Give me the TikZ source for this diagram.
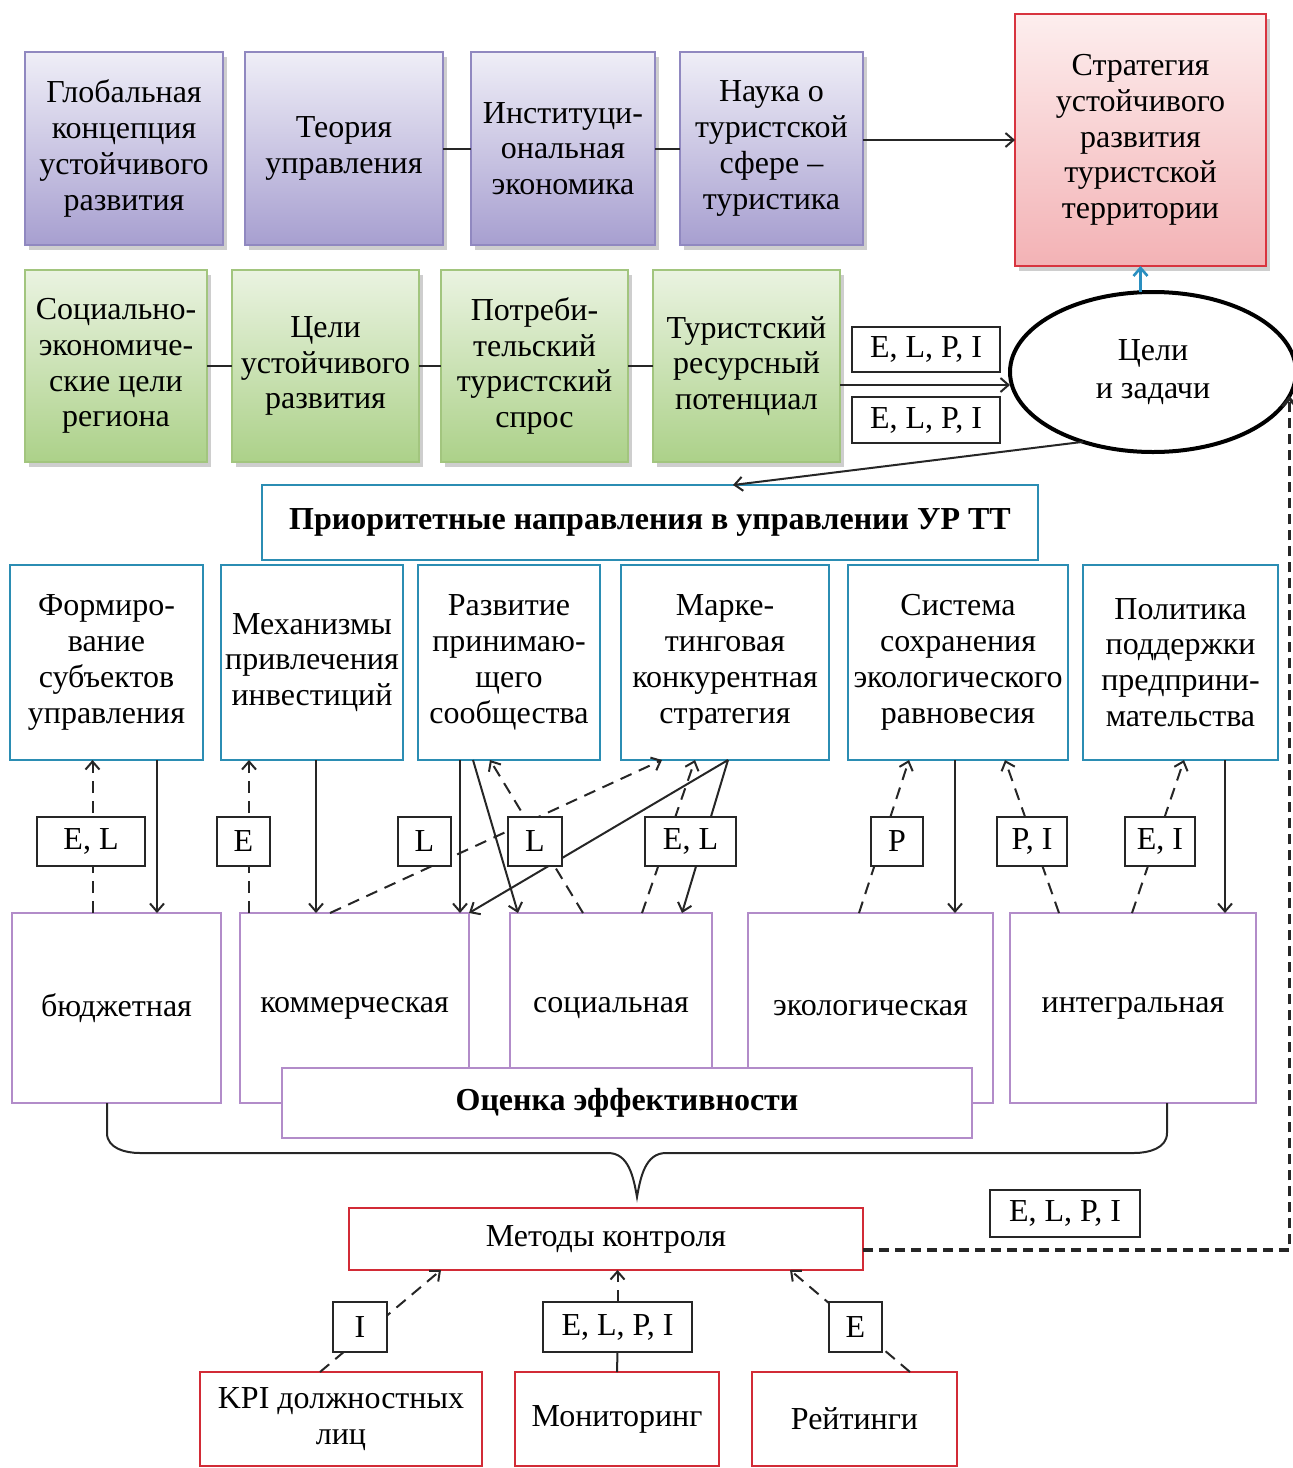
\documentclass[tikz,border=0pt]{standalone}
\usepackage{fontspec}
\setmainfont{Liberation Serif}
\usetikzlibrary{positioning,arrows.meta,calc,shadows,shapes.geometric}
\definecolor{thtop}{HTML}{EFEEF7}
\definecolor{thbot}{HTML}{A79FD0}
\definecolor{thline}{HTML}{9088C0}
\definecolor{gltop}{HTML}{EAF3E1}
\definecolor{glbot}{HTML}{ACD189}
\definecolor{glline}{HTML}{A2C57E}
\definecolor{sttop}{HTML}{FDEEEE}
\definecolor{stbot}{HTML}{F3B2B5}
\definecolor{stline}{HTML}{D8343F}
\definecolor{dirline}{HTML}{2B8DB3}
\definecolor{evline}{HTML}{B28CC9}
\definecolor{ctline}{HTML}{D22B36}
\definecolor{upteal}{HTML}{2A8FC0}
\newcommand\diagfont{\fontsize{16}{17.9}\selectfont}

\begin{document}
\begin{tikzpicture}[
  x=1pt, y=1pt,
  font=\diagfont,
  every node/.style={outer sep=0pt, inner sep=0pt, align=center},
  boxshadow/.style={drop shadow={shadow xshift=2.2pt, shadow yshift=-2.6pt,
                    opacity=0.35, fill=black!55}},
  theory/.style={boxshadow, draw=thline, line width=0.9pt, top color=thtop,
                 bottom color=thbot, minimum height=96.5pt},
  goal/.style={boxshadow, draw=glline, line width=0.9pt, top color=gltop,
               bottom color=glbot, minimum height=96pt},
  dirbox/.style={draw=dirline, line width=1pt, fill=white, minimum height=97.5pt},
  evbox/.style={draw=evline, line width=1pt, fill=white, minimum height=95pt},
  ctlbox/.style={draw=ctline, line width=1pt, fill=white},
  tag/.style={draw=black!85, line width=1pt, fill=white, minimum height=24.5pt},
  wire/.style={draw=black!85, line width=1pt},
  arr/.style={wire, -{Straight Barb[length=4pt, width=7pt]}},
  darr/.style={arr, dash pattern=on 6pt off 4pt},
]
\useasboundingbox (0,0) rectangle (646.5,-734);

% ---- theoretical base ----
\node[theory, minimum width=99pt] (th1) at (62,-74.25)
  {Глобальная\\концепция\\устойчивого\\развития};
\node[theory, minimum width=99pt, right=11pt of th1] (th2) {Теория\\управления};
\node[theory, minimum width=92pt, right=14pt of th2] (th3)
  {Институци-\\ональная\\экономика};
\node[theory, minimum width=91.5pt, right=12.5pt of th3] (th4)
  {Наука о\\туристской\\сфере –\\туристика};
\node[boxshadow, draw=stline, line width=1pt, top color=sttop, bottom color=stbot,
      minimum width=125.5pt, minimum height=126pt] (strat) at (570.25,-70)
  {Стратегия\\устойчивого\\развития\\туристской\\территории};
\draw[wire] (th2) -- (th3);
\draw[wire] (th3) -- (th4);
\draw[arr] (th4.east |- strat.west) -- (strat.west);

% ---- goals ----
\node[goal, minimum width=91pt] (gl1) at (58,-183)
  {Социально-\\экономиче-\\ские цели\\региона};
\node[goal, minimum width=93.5pt, right=12.5pt of gl1] (gl2)
  {Цели\\устойчивого\\развития};
\node[goal, minimum width=93.5pt, right=11pt of gl2] (gl3)
  {Потреби-\\тельский\\туристский\\спрос};
\node[goal, minimum width=93.5pt, right=12.5pt of gl3] (gl4)
  {Туристский\\ресурсный\\потенциал};
\node[ellipse, draw=black, line width=2pt, minimum width=143pt,
      minimum height=80pt] (ell) at (576.5,-186) {Цели\\[1pt]и задачи};
\node[tag, minimum width=74pt, minimum height=22.5pt] (tg1) at (463,-174.75) {E, L, P, I};
\node[tag, minimum width=74pt, minimum height=23pt] (tg2) at (463,-210) {E, L, P, I};
\draw[wire] (gl1) -- (gl2);
\draw[wire] (gl2) -- (gl3);
\draw[wire] (gl3) -- (gl4);
\draw[arr] ([yshift=-9.5pt]gl4.east) -- ([yshift=-9.5pt]gl4.east -| ell.west);
\draw[arr, draw=upteal, line width=1.3pt] (ell.north -| strat.south) -- (strat.south);

% ---- priority directions ----
\node[dirbox, minimum width=388pt, minimum height=37.5pt, font=\diagfont\bfseries]
  (prio) at (325,-261.25) {Приоритетные направления в управлении УР ТТ};
\draw[arr] (ell.-135) -- ([xshift=41.5pt]prio.north);
\node[dirbox, minimum width=96.5pt] (dir1) at (53.25,-331.25)
  {Формиро-\\вание\\субъектов\\управления};
\node[dirbox, minimum width=91pt, right=9pt of dir1] (dir2)
  {Механизмы\\привлечения\\инвестиций};
\node[dirbox, minimum width=91pt, right=7.5pt of dir2] (dir3)
  {Развитие\\принимаю-\\щего\\сообщества};
\node[dirbox, minimum width=104pt, right=10.5pt of dir3] (dir4)
  {Марке-\\тинговая\\конкурентная\\стратегия};
\node[dirbox, minimum width=110pt, right=9.5pt of dir4] (dir5)
  {Система\\сохранения\\экологического\\равновесия};
\node[dirbox, minimum width=97.5pt, right=7.5pt of dir5] (dir6)
  {Политика\\поддержки\\предприни-\\мательства};

% ---- evaluation ----
\node[evbox, minimum width=104.5pt] (ev1) at (58.25,-504) {бюджетная};
\node[evbox, minimum width=114.5pt, right=9.5pt of ev1] (ev2) {коммерческая};
\node[evbox, minimum width=101pt, right=20.5pt of ev2] (ev3) {социальная};
\node[evbox, minimum width=122.5pt, right=18pt of ev3] (ev4) {экологическая};
\node[evbox, minimum width=123pt, right=8.5pt of ev4] (ev5) {интегральная};
\node[evbox, minimum width=345pt, minimum height=35pt, font=\diagfont\bfseries]
  (eff) at (313.5,-551.5) {\raisebox{-2pt}{Оценка эффективности}};

% ---- directions <-> evaluation ----
\draw[darr] ([xshift=-12pt]ev1.north) -- ([xshift=-7pt]dir1.south);
\draw[arr] ([xshift=25.25pt]dir1.south) -- ([xshift=20.25pt]ev1.north);
\draw[darr] ([xshift=-52.75pt]ev2.north) -- ([xshift=-31.5pt]dir2.south);
\draw[arr] ([xshift=2pt]dir2.south) -- ([xshift=-19.25pt]ev2.north);
\draw[arr] ([xshift=-24.5pt]dir3.south) -- ([xshift=52.75pt]ev2.north);
\draw[arr] ([xshift=-18pt]dir3.south) -- ([xshift=-46.5pt]ev3.north);
\draw[darr] ([xshift=-14pt]ev3.north) -- ([xshift=-9.5pt]dir3.south);
\draw[darr] ([xshift=-12.25pt]ev2.north) -- ([xshift=-31.5pt]dir4.south);
\draw[arr] ([xshift=1.5pt]dir4.south) -- (ev2.north east);
\draw[arr] ([xshift=1.5pt]dir4.south) -- ([xshift=35.5pt]ev3.north);
\draw[darr] ([xshift=15.5pt]ev3.north) -- ([xshift=-15pt]dir4.south);
\draw[darr] ([xshift=-5.75pt]ev4.north) -- ([xshift=-24.5pt]dir5.south);
\draw[arr] ([xshift=-1.5pt]dir5.south) -- ([xshift=42.25pt]ev4.north);
\draw[darr] ([xshift=-37pt]ev5.north) -- ([xshift=23.5pt]dir5.south);
\draw[darr] ([xshift=-0.5pt]ev5.north) -- ([xshift=1.75pt]dir6.south);
\draw[arr] ([xshift=22.25pt]dir6.south) -- ([xshift=46pt]ev5.north);
\node[tag, minimum width=54pt] (tEL) at (45.5,-420.75) {E, L};
\node[tag, minimum width=26.5pt] (tE) at (121.75,-420.75) {E};
\node[tag, minimum width=26.5pt] (tL1) at (212.25,-420.75) {L};
\node[tag, minimum width=27pt] (tL2) at (267.5,-420.75) {L};
\node[tag, minimum width=45.5pt] (tEL2) at (345.25,-420.75) {E, L};
\node[tag, minimum width=26pt] (tP) at (448.5,-420.75) {P};
\node[tag, minimum width=35pt] (tPI) at (516,-420.75) {P, I};
\node[tag, minimum width=35pt] (tEI) at (580,-420.75) {E, I};

% ---- brace ----
\draw[wire] (53.5,-551.5) -- (53.5,-566.5) to[out=-90, in=180] (70,-576.5)
  -- (304,-576.5) to[out=0, in=100] (318.5,-598.5) to[out=80, in=180] (333,-576.5)
  -- (567,-576.5) to[out=0, in=-90] (583.5,-566.5) -- (583.5,-551.5);

% ---- control ----
\node[ctlbox, minimum width=257pt, minimum height=31pt] (ctl) at (303,-619.5)
  {Методы контроля};
\node[ctlbox, minimum width=141pt, minimum height=47pt] (kpi) at (170.5,-709.5)
  {KPI должностных\\лиц};
\node[ctlbox, minimum width=102pt, minimum height=47pt, right=16.5pt of kpi] (mon)
  {Мониторинг};
\node[ctlbox, minimum width=102.5pt, minimum height=47pt, right=16.5pt of mon] (rat)
  {Рейтинги};
\draw[darr] ([xshift=-10.5pt]kpi.north) -- ([xshift=-82.5pt]ctl.south);
\draw[darr] ([xshift=27.75pt]rat.north) -- ([xshift=92pt]ctl.south);
\node[tag, minimum width=27pt, minimum height=25pt] (tgI) at (180,-663.5) {I};
\node[tag, minimum width=74.5pt, minimum height=25pt] (tgM) at (308.75,-663.5) {E, L, P, I};
\node[tag, minimum width=26.5pt, minimum height=25pt] (tgE) at (427.75,-663.5) {E};
\node[tag, minimum width=75pt, minimum height=23.5pt] (tgR) at (532.5,-606.75) {E, L, P, I};
\draw[wire] (mon.north) -- (tgM.south);
\draw[darr] (tgM.north) -- (tgM.north |- ctl.south);
\draw[darr, line width=1.6pt, dash pattern=on 5pt off 3pt]
  ([yshift=-5.5pt]ctl.east) -| (ell.-10);
\end{tikzpicture}
\end{document}
